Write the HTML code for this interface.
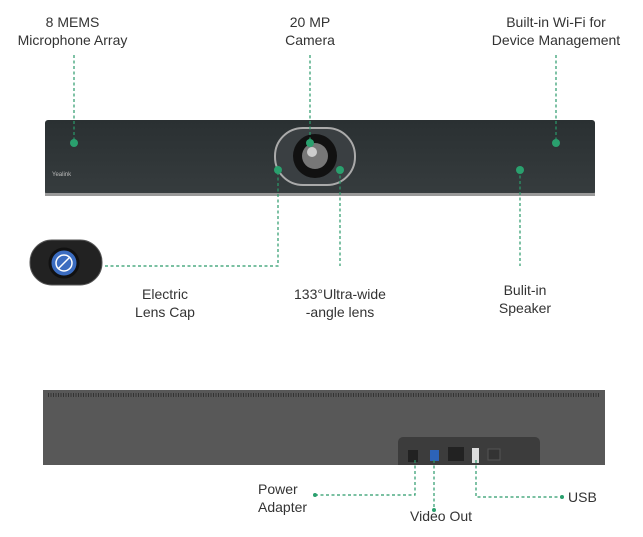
<!DOCTYPE html><html><head><style>
body{margin:0;width:643px;height:537px;background:#fff;position:relative;overflow:hidden;font-family:"Liberation Sans",sans-serif;}
.t{position:absolute;font-size:14px;color:#333;line-height:18px;text-align:center;white-space:nowrap}
</style></head><body>
<div class="t" style="left:0;width:145px;top:13px">8 MEMS<br>Microphone Array</div>
<div class="t" style="left:250px;width:120px;top:13px">20 MP<br>Camera</div>
<div class="t" style="left:476px;width:160px;top:13px">Built-in Wi-Fi for<br>Device Management</div>
<div class="t" style="left:105px;width:120px;top:285px">Electric<br>Lens Cap</div>
<div class="t" style="left:270px;width:140px;top:285px">133°Ultra-wide<br>-angle lens</div>
<div class="t" style="left:470px;width:110px;top:281px">Bulit-in<br>Speaker</div>
<div class="t" style="left:258px;top:480px;text-align:left">Power<br>Adapter</div>
<div class="t" style="left:410px;top:507px">Video Out</div>
<div class="t" style="left:568px;top:488px">USB</div>
<svg width="643" height="537" style="position:absolute;left:0;top:0">
<defs><linearGradient id="g" x1="0" y1="0" x2="0" y2="1"><stop offset="0" stop-color="#2a3032"/><stop offset="1" stop-color="#363c3e"/></linearGradient></defs>
<rect x="45" y="120" width="550" height="75" rx="3" fill="url(#g)"/>
<rect x="45" y="193" width="550" height="3" fill="#999"/>
<text x="52" y="176" font-size="6" fill="#bbb" font-family="Liberation Sans">Yealink</text>
<rect x="275" y="128" width="80" height="57" rx="28" fill="#3a3f42" stroke="#aaa" stroke-width="2"/>
<circle cx="315" cy="156" r="22" fill="#111"/><circle cx="315" cy="156" r="13" fill="#777"/><circle cx="312" cy="152" r="5" fill="#ccc"/>
<rect x="30" y="240" width="72" height="45" rx="22" fill="#222" stroke="#555"/>
<circle cx="64" cy="263" r="14" fill="#3b6cc0" stroke="#111" stroke-width="3"/>
<circle cx="64" cy="263" r="8" fill="none" stroke="#fff" stroke-width="1.5"/><line x1="58" y1="269" x2="70" y2="257" stroke="#fff" stroke-width="1.5"/>
<rect x="43" y="390" width="562" height="75" fill="#585858"/>
<line x1="48" y1="395" x2="600" y2="395" stroke="#333" stroke-width="4" stroke-dasharray="1 1.5"/>
<path d="M398 465 V442 a5 5 0 0 1 5 -5 H535 a5 5 0 0 1 5 5 V465Z" fill="#3c3c3c"/>
<rect x="408" y="450" width="10" height="12" fill="#222"/><rect x="430" y="450" width="9" height="11" fill="#2d63b8"/>
<rect x="448" y="447" width="16" height="14" fill="#222"/><rect x="472" y="448" width="7" height="15" fill="#ddd"/>
<rect x="488" y="449" width="12" height="11" fill="#333" stroke="#555"/>
<g stroke="#2a9a6a" stroke-width="1.2" stroke-dasharray="3 2.5" fill="none">
<path d="M74 55V143M310 55V143M556 55V143"/>
<path d="M105 266H278V170M340 170V266M520 170V266"/>
<path d="M315 495H415V460M434 460V510M476 460V497H562"/>
</g>
<g fill="#2aa06e">
<circle cx="74" cy="143" r="4"/><circle cx="310" cy="143" r="4"/><circle cx="556" cy="143" r="4"/>
<circle cx="278" cy="170" r="4"/><circle cx="340" cy="170" r="4"/><circle cx="520" cy="170" r="4"/>
<circle cx="315" cy="495" r="2"/><circle cx="434" cy="510" r="2"/><circle cx="562" cy="497" r="2"/>
</g>
</svg>
</body></html>
